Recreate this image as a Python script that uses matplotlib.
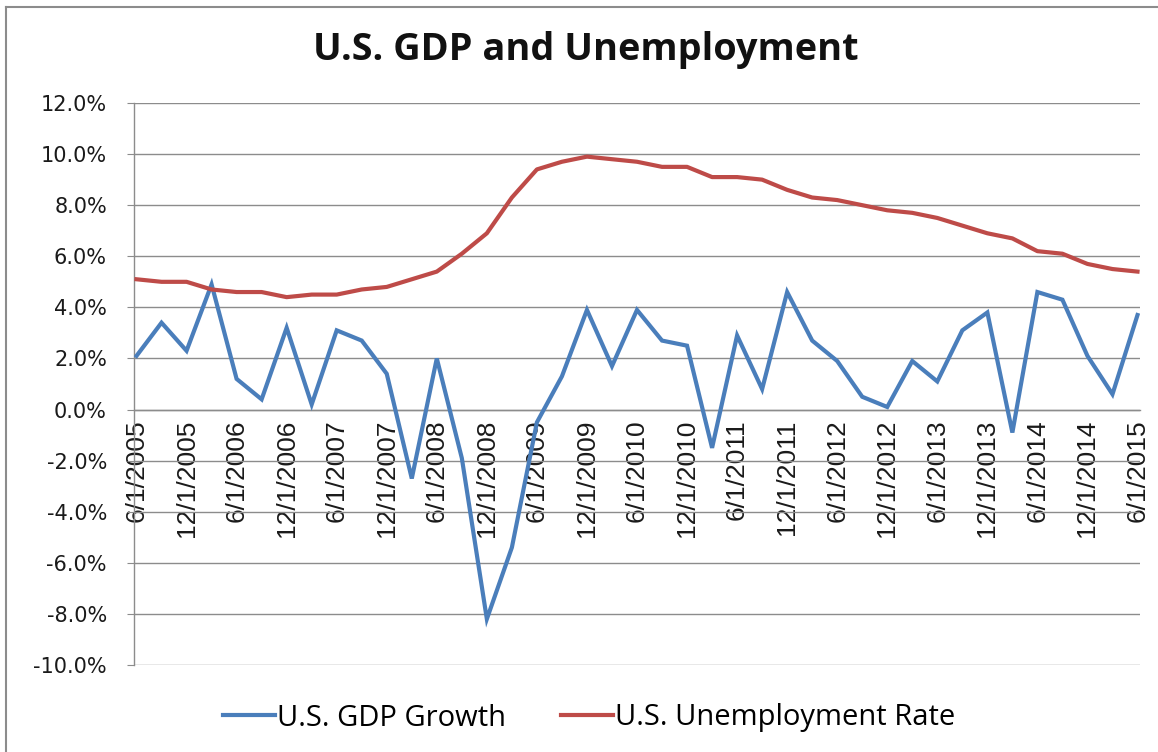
import matplotlib
matplotlib.use("Agg")
import matplotlib.pyplot as plt
from matplotlib.lines import Line2D
from matplotlib.ticker import FuncFormatter

# ---- data (quarterly, 6/1/2005 .. 6/1/2015) ----
quarters = ["6/1/2005", "9/1/2005", "12/1/2005", "3/1/2006", "6/1/2006", "9/1/2006",
            "12/1/2006", "3/1/2007", "6/1/2007", "9/1/2007", "12/1/2007", "3/1/2008",
            "6/1/2008", "9/1/2008", "12/1/2008", "3/1/2009", "6/1/2009", "9/1/2009",
            "12/1/2009", "3/1/2010", "6/1/2010", "9/1/2010", "12/1/2010", "3/1/2011",
            "6/1/2011", "9/1/2011", "12/1/2011", "3/1/2012", "6/1/2012", "9/1/2012",
            "12/1/2012", "3/1/2013", "6/1/2013", "9/1/2013", "12/1/2013", "3/1/2014",
            "6/1/2014", "9/1/2014", "12/1/2014", "3/1/2015", "6/1/2015"]

gdp_growth = [2.1, 3.4, 2.3, 4.9, 1.2, 0.4, 3.2, 0.2, 3.1, 2.7, 1.4, -2.7,
              2.0, -1.9, -8.2, -5.4, -0.5, 1.3, 3.9, 1.7, 3.9, 2.7, 2.5, -1.5,
              2.9, 0.8, 4.6, 2.7, 1.9, 0.5, 0.1, 1.9, 1.1, 3.1, 3.8, -0.9,
              4.6, 4.3, 2.1, 0.6, 3.7]

unemployment = [5.1, 5.0, 5.0, 4.7, 4.6, 4.6, 4.4, 4.5, 4.5, 4.7, 4.8, 5.1,
                5.4, 6.1, 6.9, 8.3, 9.4, 9.7, 9.9, 9.8, 9.7, 9.5, 9.5, 9.1,
                9.1, 9.0, 8.6, 8.3, 8.2, 8.0, 7.8, 7.7, 7.5, 7.2, 6.9, 6.7,
                6.2, 6.1, 5.7, 5.5, 5.4]

y_ticks = [-10, -8, -6, -4, -2, 0, 2, 4, 6, 8, 10, 12]

title = "U.S. GDP and Unemployment"
series_names = ["U.S. GDP Growth", "U.S. Unemployment Rate"]
colors = ["#4A7EBB", "#BE4B48"]

# ---- figure ----
W, H = 1158, 752
fig = plt.figure(figsize=(W / 100, H / 100), dpi=100)
fig.patch.set_facecolor("white")

# outer chart border (top and left visible)
fig.add_artist(Line2D([6 / W, 6 / W], [0, 1 - 7 / H], transform=fig.transFigure,
                      color="#8C8C8C", lw=1.5))
fig.add_artist(Line2D([6 / W, 1], [1 - 7 / H, 1 - 7 / H], transform=fig.transFigure,
                      color="#8C8C8C", lw=1.5))

left, right, top, bottom = 134 / W, 1140 / W, 1 - 103 / H, 1 - 665 / H
ax = fig.add_axes([left, bottom, right - left, top - bottom])

x = list(range(len(quarters)))
ax.plot(x, gdp_growth, color=colors[0], lw=3.0, solid_joinstyle="miter",
        label=series_names[0], zorder=3)
ax.plot(x, unemployment, color=colors[1], lw=3.0, solid_joinstyle="round",
        label=series_names[1], zorder=3)

ax.set_xlim(-0.1, len(quarters) - 1 + 0.1)
ax.set_ylim(-10, 12)
ax.set_yticks(y_ticks)
ax.yaxis.set_major_formatter(FuncFormatter(lambda v, p: f"{v:.1f}%"))
ax.grid(axis="y", color="#8C8C8C", lw=1.0)
ax.set_axisbelow(True)

for s in ["top", "right"]:
    ax.spines[s].set_visible(False)
ax.spines["left"].set_color("#8C8C8C")
ax.spines["left"].set_linewidth(1.0)
ax.spines["bottom"].set_position(("data", 0))
ax.spines["bottom"].set_color("#8C8C8C")
ax.spines["bottom"].set_linewidth(1.0)

ax.tick_params(axis="y", length=5, color="#8C8C8C", labelsize=15, pad=14.5,
               labelcolor="#1A1A1A")
for lab in ax.get_yticklabels():
    lab.set_fontfamily("DejaVu Sans")

xt = x[::2]
ax.set_xticks(xt)
ax.set_xticklabels([quarters[i] for i in xt], rotation=90, va="top", ha="center",
                   fontfamily="Liberation Sans", fontsize=19, color="#1A1A1A")
ax.tick_params(axis="x", length=0, pad=7)

fig.text(586 / W, 1 - 50 / H, title, ha="center", va="center",
         fontsize=27.3, fontweight="bold", fontfamily="Open Sans", color="#111111")

handles = [Line2D([], [], color=colors[0], lw=3.0),
           Line2D([], [], color=colors[1], lw=3.0)]
fig.legend(handles, series_names, loc="center", bbox_to_anchor=(589 / W, 1 - 718 / H),
           ncol=2, frameon=False, prop={"family": "Open Sans", "size": 21},
           handlelength=1.8, handletextpad=0.07, columnspacing=1.87)

fig.savefig("out.png", dpi=100, facecolor="white")
